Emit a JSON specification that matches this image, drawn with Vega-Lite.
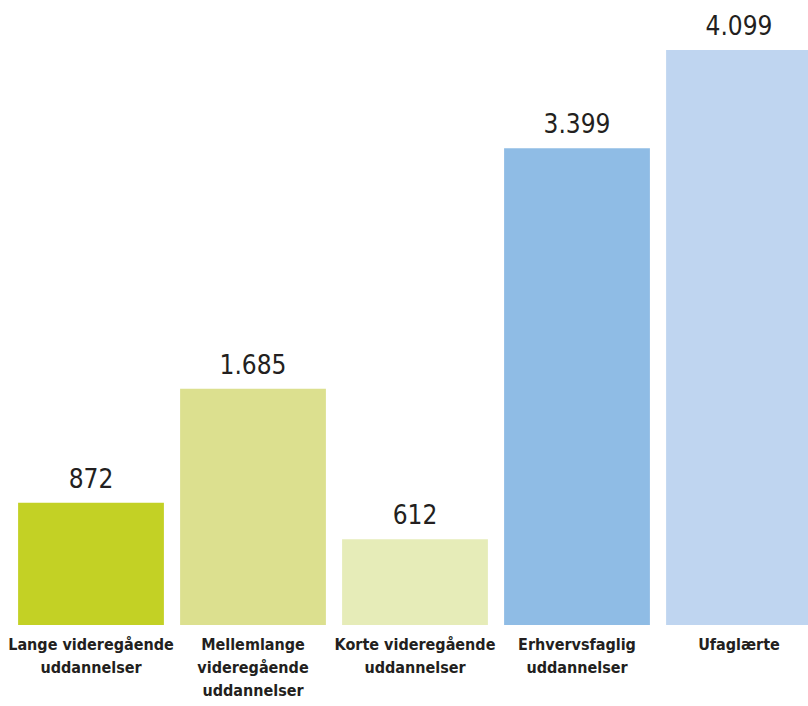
{
  "$schema": "https://vega.github.io/schema/vega-lite/v6.json",
  "autosize": "none",
  "width": 798,
  "height": 575,
  "padding": {"left": 10, "top": 50, "right": 0, "bottom": 81},
  "background": "white",
  "config": {
    "view": {"stroke": null},
    "locale": {"number": {"decimal": ",", "thousands": ".", "grouping": [3], "currency": ["", " kr."]}}
  },
  "data": {
    "values": [
      {"kategori": "Lange videregående uddannelser", "antal": 872},
      {"kategori": "Mellemlange videregående uddannelser", "antal": 1685},
      {"kategori": "Korte videregående uddannelser", "antal": 612},
      {"kategori": "Erhvervsfaglig uddannelser", "antal": 3399},
      {"kategori": "Ufaglærte", "antal": 4099}
    ]
  },
  "encoding": {
    "x": {
      "field": "kategori",
      "type": "nominal",
      "sort": null,
      "scale": {"range": [0, 810], "paddingInner": 0.1, "paddingOuter": 0.05},
      "axis": {
        "title": null,
        "domain": false,
        "ticks": false,
        "labelAngle": 0,
        "labelPadding": 11,
        "labelFont": "DejaVu Sans Condensed",
        "labelFontWeight": "bold",
        "labelFontSize": 16,
        "labelLineHeight": 23,
        "labelColor": "#231f20",
        "labelLimit": 0,
        "labelExpr": "datum.value == 'Lange videregående uddannelser' ? ['Lange videregående', 'uddannelser'] : datum.value == 'Mellemlange videregående uddannelser' ? ['Mellemlange', 'videregående', 'uddannelser'] : datum.value == 'Korte videregående uddannelser' ? ['Korte videregående', 'uddannelser'] : datum.value == 'Erhvervsfaglig uddannelser' ? ['Erhvervsfaglig', 'uddannelser'] : datum.label"
      }
    },
    "y": {
      "field": "antal",
      "type": "quantitative",
      "scale": {"domain": [0, 4099], "nice": false},
      "axis": null
    }
  },
  "layer": [
    {
      "mark": {"type": "bar"},
      "encoding": {
        "color": {
          "field": "kategori",
          "type": "nominal",
          "sort": null,
          "scale": {"range": ["#c3d125", "#dce08f", "#e6ecb8", "#8fbce5", "#bfd5f0"]},
          "legend": null
        }
      }
    },
    {
      "mark": {"type": "text", "baseline": "alphabetic", "dy": -15, "font": "DejaVu Sans Condensed", "fontSize": 26, "color": "#231f20"},
      "encoding": {
        "text": {"field": "antal", "type": "quantitative", "format": ",d"}
      }
    }
  ]
}
